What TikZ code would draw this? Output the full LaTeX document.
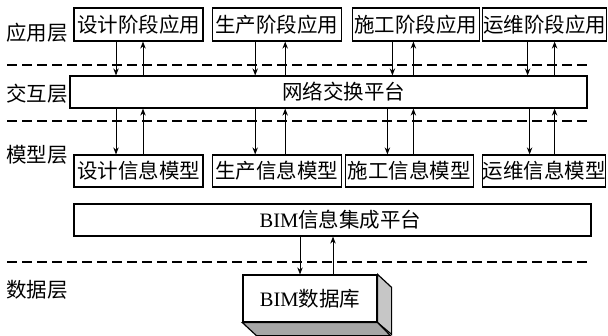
\documentclass[tikz,border=0pt]{standalone}
\usepackage{fontspec}
\setmainfont{Liberation Serif}
\newfontfamily\cjk{Noto Sans CJK SC}
\usetikzlibrary{positioning,arrows.meta}

\begin{document}
\begin{tikzpicture}[
    x=1pt, y=-1pt,
    every node/.style={font=\fontsize{20.5}{24}\selectfont\cjk, align=center, inner sep=0pt},
    box/.style={draw, line width=1.2pt, minimum height=33pt},
    platbox/.style={draw, line width=1.2pt, minimum height=32pt, minimum width=517pt},
    layerlabel/.style={font=\fontsize{20.5}{24}\selectfont\cjk},
    arrow/.style={-{Stealth[length=7pt, width=5.5pt]}, line width=0.9pt},
    sep/.style={dash pattern=on 10pt off 5pt, line width=1.1pt}
]
\useasboundingbox (0,0) rectangle (608,335);

% Layer labels
\node[layerlabel] (l1) at (37,33) {应用层};
\node[layerlabel] (l2) at (37,94) {交互层};
\node[layerlabel] (l3) at (37,155) {模型层};
\node[layerlabel] (l4) at (37,290) {数据层};

% Application layer
\node[box, minimum width=129pt] (app1) at (138.5,24.5) {设计阶段应用};
\node[box, minimum width=129pt, right=8pt of app1] (app2) {生产阶段应用};
\node[box, minimum width=127pt, right=10pt of app2] (app3) {施工阶段应用};
\node[box, minimum width=124pt, right=2pt of app3] (app4) {运维阶段应用};

% Platforms
\node[platbox] (net) at (328.5,92) {\hspace*{30pt}网络交换平台};
\node[platbox, font=\fontsize{20.5}{24}\selectfont] (bimp) at (332.5,220) {\hspace*{16pt}BIM{\cjk 信息集成平台}};

% Model layer
\node[box, minimum width=129pt, minimum height=32pt] (mod1) at (138.5,171) {设计信息模型};
\node[box, minimum width=129pt, minimum height=32pt, right=8pt of mod1] (mod2) {生产信息模型};
\node[box, minimum width=128pt, minimum height=32pt, right=3pt of mod2] (mod3) {施工信息模型};
\node[box, minimum width=123pt, minimum height=32pt, right=8pt of mod3] (mod4) {运维信息模型};

% Database
\node[box, minimum width=134pt, minimum height=47pt, fill=white, font=\fontsize{20.5}{24}\selectfont] (db) at (310,298.5) {BIM{\cjk 数据库}};
\filldraw[fill=gray!45, line width=1.2pt] (db.north east) -- ++(14,13) -- ++(0,47) -- (db.south east) -- cycle;
\filldraw[fill=gray!70, line width=1.2pt] (db.south west) -- ++(14,13) -- ++(134,0) -- (db.south east) -- cycle;

% Layer separators
\draw[sep] (7,65) -- (591,65);
\draw[sep] (7,121) -- (591,121);
\draw[sep] (7,262) -- (591,262);

% Arrows
\foreach \i/\d/\u in {1/-22.5/4.5, 2/-21.5/8.5, 3/-23.5/-2.5, 4/-17/10} {
  \draw[arrow] ([xshift=\d pt]app\i.south) -- ([xshift=\d pt]app\i.south |- net.north);
  \draw[arrow] ([xshift=\u pt]app\i.south |- net.north) -- ([xshift=\u pt]app\i.south);
}
\foreach \i/\d/\u in {1/-22.5/4.5, 2/-21.5/8.5, 3/-22/4, 4/-14.5/10.5} {
  \draw[arrow] ([xshift=\d pt]mod\i.north |- net.south) -- ([xshift=\d pt]mod\i.north);
  \draw[arrow] ([xshift=\u pt]mod\i.north) -- ([xshift=\u pt]mod\i.north |- net.south);
}
\draw[arrow] ([xshift=-10pt]db.north |- bimp.south) -- ([xshift=-10pt]db.north);
\draw[arrow] ([xshift=23pt]db.north) -- ([xshift=23pt]db.north |- bimp.south);

\end{tikzpicture}
\end{document}
